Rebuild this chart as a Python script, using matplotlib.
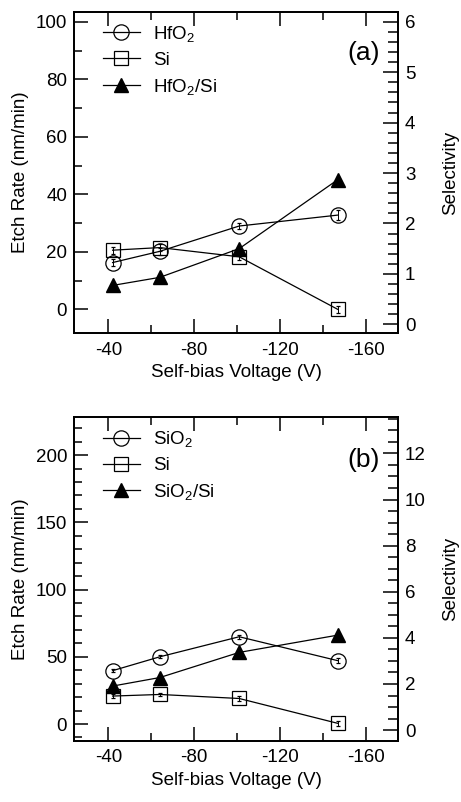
import numpy as np
import matplotlib
matplotlib.use("Agg")
import matplotlib.pyplot as plt
from matplotlib.ticker import MultipleLocator
from matplotlib.lines import Line2D

plt.rcParams["font.family"] = ["Liberation Sans", "DejaVu Sans"]
plt.rcParams["mathtext.fontset"] = "custom"
plt.rcParams["mathtext.rm"] = "Liberation Sans"
plt.rcParams["mathtext.default"] = "regular"
plt.rcParams["axes.unicode_minus"] = False

# self-bias voltage (V)
bias = [-42, -64, -101, -147]

# panel (a)
hfo2_rate = [16.3, 20.2, 29.0, 32.8]
hfo2_err = [1.2, 1.2, 1.2, 1.8]
si_rate_a = [20.6, 21.5, 18.3, 0.0]
si_err_a = [1.2, 1.2, 1.2, 1.2]
hfo2_sel = [0.77, 0.93, 1.50, 2.87]

# panel (b)
sio2_rate = [39.7, 50.0, 64.9, 47.1]
sio2_err = [1.2, 1.2, 1.5, 2.0]
si_rate_b = [20.8, 22.0, 19.0, 0.5]
si_err_b = [1.2, 1.2, 1.5, 2.0]
sio2_sel = [1.91, 2.28, 3.37, 4.12]

panels = [
    dict(rate=hfo2_rate, err=hfo2_err, si=si_rate_a, si_err=si_err_a, sel=hfo2_sel,
         ox="HfO$_2$", ratio="HfO$_2$/Si", tag="(a)", tag_y=0.872,
         ylim=(-8.3, 103.5), ymaj=20, ymin=10,
         y2lim=(-0.18, 6.2), y2maj=1, y2min=0.2,
         rect=[0.1605, 0.5844, 0.7028, 0.401]),
    dict(rate=sio2_rate, err=sio2_err, si=si_rate_b, si_err=si_err_b, sel=sio2_sel,
         ox="SiO$_2$", ratio="SiO$_2$/Si", tag="(b)", tag_y=0.866,
         ylim=(-12.4, 228.5), ymaj=50, ymin=10,
         y2lim=(-0.46, 13.59), y2maj=2, y2min=0.5,
         rect=[0.1605, 0.0764, 0.7028, 0.404]),
]

fig = plt.figure(figsize=(4.61, 8.02), dpi=100)

for p in panels:
    ax = fig.add_axes(p["rect"])
    ax2 = ax.twinx()

    ax.errorbar(bias, p["rate"], yerr=p["err"], color="black", lw=0.9,
                marker="o", ms=11, mfc="none", mec="black", mew=0.9,
                capsize=1.5, elinewidth=0.7)
    ax.errorbar(bias, p["si"], yerr=p["si_err"], color="black", lw=0.9,
                marker="s", ms=10, mfc="none", mec="black", mew=0.9,
                capsize=1.5, elinewidth=0.7)
    ax2.plot(bias, p["sel"], color="black", lw=0.9, marker="^", ms=10,
             mfc="black", mec="black")

    ax.set_xlim(-24, -175)
    ax.set_ylim(*p["ylim"])
    ax2.set_ylim(*p["y2lim"])

    ax.xaxis.set_major_locator(MultipleLocator(40))
    ax.xaxis.set_minor_locator(MultipleLocator(20))
    ax.yaxis.set_major_locator(MultipleLocator(p["ymaj"]))
    ax.yaxis.set_minor_locator(MultipleLocator(p["ymin"]))
    ax2.yaxis.set_major_locator(MultipleLocator(p["y2maj"]))
    ax2.yaxis.set_minor_locator(MultipleLocator(p["y2min"]))

    ax.tick_params(axis="x", which="both", direction="in", top=True, labelsize=13.5, pad=6)
    ax.tick_params(axis="y", which="both", direction="in", right=False, labelsize=13.5, pad=5)
    ax.tick_params(which="major", length=10, width=1.1)
    ax.tick_params(which="minor", length=6, width=1.1)
    ax2.tick_params(axis="y", which="both", direction="in", labelsize=13.5, pad=5)
    ax2.tick_params(which="major", length=11, width=1.1)
    ax2.tick_params(which="minor", length=7, width=1.1)

    for a in (ax, ax2):
        for s in a.spines.values():
            s.set_linewidth(1.3)

    ax.set_xlabel("Self-bias Voltage (V)", fontsize=13.5, labelpad=4)
    ax.set_ylabel("Etch Rate (nm/min)", fontsize=13.5)
    ax.yaxis.set_label_coords(-0.139, 0.5)
    ax2.set_ylabel("Selectivity", fontsize=13.5)
    ax2.yaxis.set_label_coords(1.136, 0.5)

    ax2.text(0.945, p["tag_y"], p["tag"], transform=ax.transAxes, fontsize=19,
             ha="right", va="center")

    handles = [
        Line2D([], [], color="black", lw=0.9, marker="o", ms=11, mfc="none", mew=0.9),
        Line2D([], [], color="black", lw=0.9, marker="s", ms=10, mfc="none", mew=0.9),
        Line2D([], [], color="black", lw=0.9, marker="^", ms=10, mfc="black"),
    ]
    ax2.legend(handles, [p["ox"], "Si", p["ratio"]], loc="upper left",
               frameon=False, fontsize=13.5, handlelength=2.0, handletextpad=0.7,
               labelspacing=0.42, borderaxespad=0.0, bbox_to_anchor=(0.065, 0.985))

fig.savefig("out.png", dpi=100)
